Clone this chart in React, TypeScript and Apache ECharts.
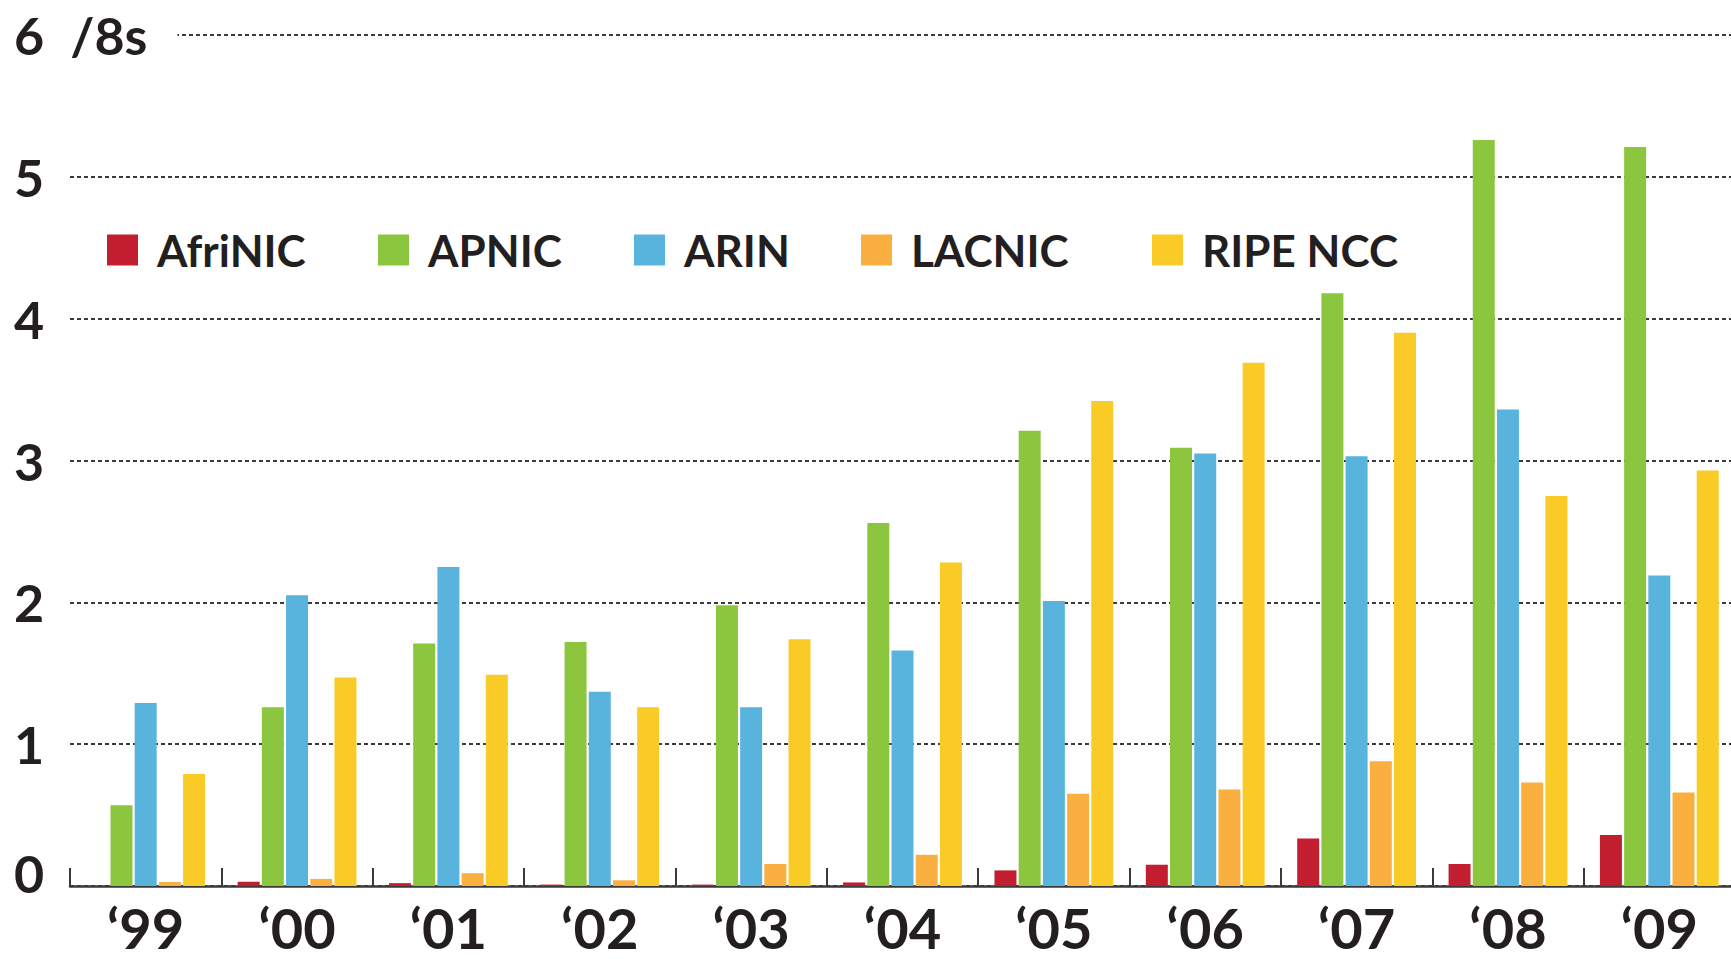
import React, { useEffect, useRef } from "react";
import * as echarts from "echarts";

const categories = ["\u201899", "\u201800", "\u201801", "\u201802", "\u201803", "\u201804", "\u201805", "\u201806", "\u201807", "\u201808", "\u201809"];
const seriesNames = ["AfriNIC", "APNIC", "ARIN", "LACNIC", "RIPE NCC"];
const afrinic = [0, 0.03, 0.02, 0.01, 0.01, 0.025, 0.11, 0.15, 0.335, 0.155, 0.36];
const apnic = [0.57, 1.26, 1.71, 1.72, 1.98, 2.56, 3.21, 3.09, 4.18, 5.26, 5.21];
const arin = [1.29, 2.05, 2.25, 1.37, 1.26, 1.66, 2.01, 3.05, 3.03, 3.36, 2.19];
const lacnic = [0.028, 0.05, 0.09, 0.04, 0.155, 0.22, 0.65, 0.68, 0.88, 0.73, 0.66];
const ripe = [0.79, 1.47, 1.49, 1.26, 1.74, 2.28, 3.42, 3.69, 3.9, 2.75, 2.93];
const colors = ["#C21E30", "#8CC63F", "#58B4DC", "#F9B041", "#FACB26"];
const legendLefts = [107, 378, 634, 861, 1152];

const FONT = "Lato";
const INK = "#231F20";

export default function App() {
  const ref = useRef<HTMLDivElement>(null);
  useEffect(() => {
    document.body.style.margin = "0";
    const chart = echarts.init(ref.current!, null, { renderer: "svg" });
    const values = [afrinic, apnic, arin, lacnic, ripe];
    chart.setOption({
      animation: false,
      backgroundColor: "#ffffff",
      color: colors,
      grid: { left: 70, right: -4, top: 35, bottom: 73, containLabel: false, outerBoundsMode: "none" },
      legend: seriesNames.map((n, i) => ({
        data: [n],
        left: legendLefts[i],
        top: 228,
        padding: 0,
        icon: "rect",
        itemWidth: 31,
        itemHeight: 31,
        selectedMode: false,
        textStyle: {
          fontFamily: FONT,
          fontWeight: "bold",
          fontSize: 44,
          color: INK,
          padding: [0, 0, 0, 14],
        },
      })),
      xAxis: {
        type: "category",
        data: categories,
        boundaryGap: true,
        axisLine: { lineStyle: { color: "#3a3a3a", width: 2.5 } },
        axisTick: { show: true, inside: true, length: 18, interval: 0, lineStyle: { color: "#3a3a3a", width: 2 } },
        axisLabel: {
          interval: 0,
          margin: 13,
          fontFamily: FONT,
          fontWeight: "bold",
          fontSize: 56,
          lineHeight: 56,
          color: INK,
        },
      },
      yAxis: {
        type: "value",
        min: 0,
        max: 6,
        interval: 1,
        axisLine: { show: false },
        axisTick: { show: false },
        splitLine: { lineStyle: { color: "#3a3a3a", width: 2, type: [4, 3] } },
        axisLabel: {
          align: "left",
          margin: 56,
          fontFamily: FONT,
          fontWeight: "bold",
          fontSize: 52,
          color: INK,
          formatter: (v: number) => {
            if (v === 6) return "{w|6}{s|/8s}";
            if (v === 0) return "{z|0}";
            return String(v);
          },
          rich: {
            w: { fontFamily: FONT, fontWeight: "bold", fontSize: 52, color: INK, backgroundColor: "#ffffff" },
            s: {
              fontFamily: FONT,
              fontWeight: "bold",
              fontSize: 52,
              color: INK,
              backgroundColor: "#ffffff",
              padding: [0, 30, 0, 26],
            },
            z: { fontFamily: FONT, fontWeight: "bold", fontSize: 52, color: INK, padding: [0, 0, 26, 0] },
          },
        },
      },
      series: seriesNames.map((n, i) => ({
        name: n,
        type: "bar",
        data: values[i],
        barWidth: 22,
        barGap: "10%",
        itemStyle: { color: colors[i] },
      })),
    });
    return () => chart.dispose();
  }, []);
  return <div ref={ref} style={{ width: 1731, height: 959 }} />;
}
